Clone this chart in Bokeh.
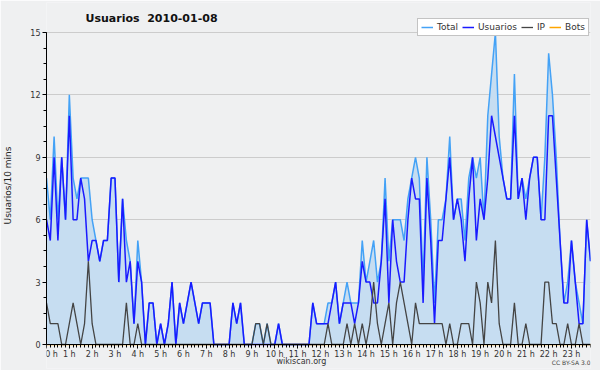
from bokeh.plotting import figure
from bokeh.models import Range1d, SingleIntervalTicker, Label, Legend, LegendItem
from bokeh.embed import file_html
from bokeh.resources import INLINE

# 10-minute slots over the day (0 .. 143)
slots = list(range(144))

usuarios = [6, 5, 9, 5, 9, 6, 11, 6, 6, 8,
            7, 4, 5, 5, 4, 5, 5, 8, 8, 3,
            7, 3, 4, 1, 4, 3, 0, 2, 2, 0,
            1, 0, 1, 3, 0, 2, 1, 2, 3, 2,
            1, 2, 2, 2, 0, 0, 0, 0, 0, 2,
            1, 2, 0, 0, 0, 0, 0, 0, 0, 0,
            0, 1, 0, 0, 0, 0, 0, 0, 0, 0,
            2, 1, 1, 1, 1, 2, 3, 1, 2, 2,
            2, 1, 2, 4, 3, 3, 2, 2, 4, 7,
            2, 6, 4, 3, 3, 6, 8, 7, 7, 2,
            8, 5, 1, 5, 5, 7, 9, 6, 7, 6,
            4, 7, 9, 5, 7, 6, 8, 11, 10, 9,
            8, 7, 7, 11, 7, 8, 6, 8, 9, 9,
            6, 6, 11, 11, 8, 5, 2, 2, 5, 3,
            1, 1, 6, 4]

ip = [2, 1, 1, 1, 0, 0, 1, 2, 1, 0,
      1, 4, 1, 0, 0, 0, 0, 0, 0, 0,
      0, 2, 0, 0, 1, 0, 0, 0, 0, 0,
      0, 0, 0, 0, 0, 0, 0, 0, 0, 0,
      0, 0, 0, 0, 0, 0, 0, 0, 0, 0,
      0, 0, 0, 0, 0, 1, 1, 0, 1, 0,
      0, 0, 0, 0, 0, 0, 0, 0, 0, 0,
      0, 0, 0, 0, 1, 0, 0, 0, 0, 1,
      0, 1, 0, 1, 0, 1, 3, 1, 0, 1,
      2, 0, 2, 3, 2, 1, 0, 2, 1, 1,
      1, 1, 1, 1, 1, 0, 1, 0, 0, 1,
      1, 1, 0, 3, 2, 0, 3, 2, 5, 1,
      0, 0, 0, 2, 0, 0, 1, 0, 0, 0,
      0, 3, 3, 1, 1, 0, 0, 1, 0, 0,
      1, 0, 0, 0]

total = [8, 6, 10, 6, 9, 6, 12, 8, 7, 8,
         8, 8, 6, 5, 4, 5, 5, 8, 8, 3,
         7, 5, 4, 1, 5, 3, 0, 2, 2, 0,
         1, 0, 1, 3, 0, 2, 1, 2, 3, 2,
         1, 2, 2, 2, 0, 0, 0, 0, 0, 2,
         1, 2, 0, 0, 0, 1, 1, 0, 1, 0,
         0, 1, 0, 0, 0, 0, 0, 0, 0, 0,
         2, 1, 1, 1, 2, 2, 3, 1, 2, 3,
         2, 2, 2, 5, 3, 4, 5, 3, 4, 8,
         4, 6, 6, 6, 5, 7, 8, 9, 8, 3,
         9, 6, 2, 6, 6, 7, 10, 6, 7, 7,
         5, 8, 9, 8, 9, 6, 11, 13, 15, 10,
         8, 7, 7, 13, 7, 8, 7, 8, 9, 9,
         6, 9, 14, 12, 9, 5, 2, 3, 5, 3,
         2, 1, 6, 4]

bots = [0] * 144

hour_ticks = [0, 6, 12, 18, 24, 30, 36, 42, 48, 54, 60, 66,
              72, 78, 84, 90, 96, 102, 108, 114, 120, 126, 132, 138]
hour_labels = ["\u2007\u20070 h", "1 h", "2 h", "3 h", "4 h", "5 h", "6 h", "7 h",
               "8 h", "9 h", "10 h", "11 h", "12 h", "13 h", "14 h", "15 h",
               "16 h", "17 h", "18 h", "19 h", "20 h", "21 h", "22 h", "23 h"]

FONT = "DejaVu Sans"
BG = "#eff0f1"

p = figure(width=600, height=370, output_backend="svg", toolbar_location=None,
           title=None,
           x_range=Range1d(0, 143), y_range=Range1d(-1.154, 16.442),
           min_border_left=46, min_border_right=10,
           min_border_top=2, min_border_bottom=2)
p.background_fill_color = BG
p.border_fill_color = BG
p.outline_line_color = None

r_bots = p.line(slots, bots, line_color="#ffa500", line_width=1.5)
p.varea(x=slots, y1=0, y2=total, fill_color="#c6ddf1")
r_total = p.line(slots, total, line_color="#44a2f6", line_width=1.5)
r_users = p.line(slots, usuarios, line_color="#1a1aff", line_width=1.5)
r_ip = p.line(slots, ip, line_color="#444444", line_width=1.3)

# axes
p.xaxis.ticker = SingleIntervalTicker(interval=6, num_minor_ticks=6)
p.xaxis.major_label_overrides = dict(zip(hour_ticks, hour_labels))
p.xaxis.fixed_location = 0
p.yaxis.ticker = SingleIntervalTicker(interval=3, num_minor_ticks=4)
p.yaxis.bounds = (0, 15)
p.xaxis.bounds = (0, 143)
for ax in (p.xaxis[0], p.yaxis[0]):
    ax.axis_line_color = "black"
    ax.major_tick_line_color = "black"
    ax.minor_tick_line_color = "black"
    ax.major_tick_in = 0
    ax.minor_tick_in = 0
    ax.major_tick_out = 4
    ax.minor_tick_out = 3
    ax.major_label_text_font = FONT
    ax.major_label_text_font_size = "8px"
    ax.major_label_text_color = "#333333"
    ax.major_label_standoff = 2
    ax.axis_label_text_font = FONT
    ax.axis_label_text_font_style = "normal"
p.yaxis.axis_label = "Usuarios/10 mins"
p.yaxis.axis_label_text_font_size = "9px"
p.yaxis.axis_label_text_color = "#222222"
p.yaxis.axis_label_standoff = 14

p.xgrid.grid_line_color = None
p.ygrid.grid_line_color = "#cccccc"

# title inside the top strip of the frame, credits inside the bottom strip
p.add_layout(Label(x=10.25, y=15.67, text="Usuarios\u00a0\u00a02010-01-08", text_font=FONT,
                   text_font_size="11px", text_font_style="bold",
                   text_color="#111111", text_baseline="middle"))
p.add_layout(Label(x=67, y=-0.82, text="wikiscan.org", text_font=FONT,
                   text_font_size="8px", text_color="#333333",
                   text_align="center", text_baseline="middle"))
p.add_layout(Label(x=143, y=-0.88, text="CC BY-SA 3.0", text_font=FONT,
                   text_font_size="6px", text_color="#444444",
                   text_align="right", text_baseline="middle"))

legend = Legend(items=[LegendItem(label="Total", renderers=[r_total]),
                       LegendItem(label="Usuarios", renderers=[r_users]),
                       LegendItem(label="IP", renderers=[r_ip]),
                       LegendItem(label="Bots", renderers=[r_bots])],
                orientation="horizontal", location=(371, 332))
legend.background_fill_color = "white"
legend.background_fill_alpha = 1
legend.border_line_color = "#888888"
legend.label_text_font = FONT
legend.label_text_font_size = "9px"
legend.label_text_color = "#333333"
legend.glyph_width = 12
legend.glyph_height = 10
legend.label_height = 10
legend.label_width = 4
legend.label_standoff = 4
legend.spacing = 4
legend.padding = 3
legend.margin = 0
p.add_layout(legend)

open("out.html", "w").write(file_html(p, INLINE))
